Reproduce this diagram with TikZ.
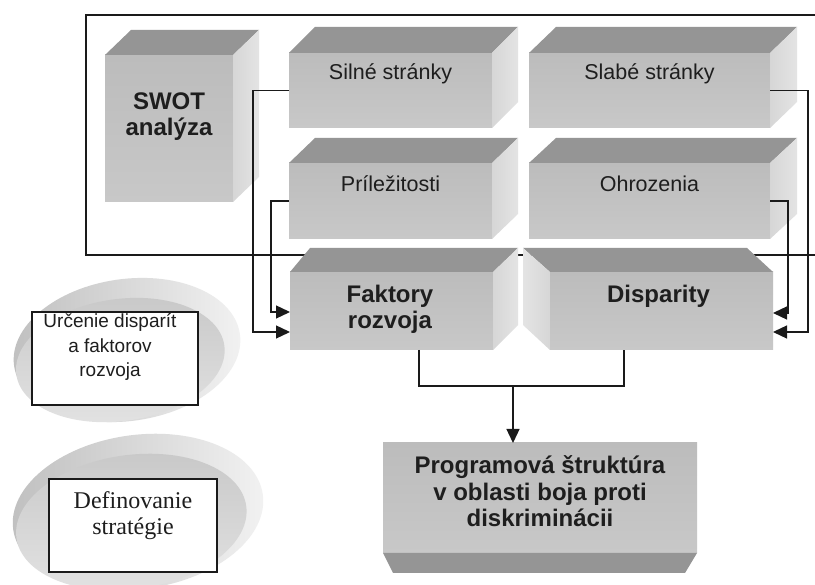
\documentclass[tikz,border=0pt]{standalone}
\usepackage{fontspec}
\setmainfont{Liberation Sans}
\newfontfamily\tnrfont{Liberation Serif}
\usetikzlibrary{arrows.meta}
\definecolor{topg}{HTML}{959595}
\definecolor{frontg}{HTML}{BCBCBC}
\definecolor{frontgl}{HTML}{C8C8C8}
\definecolor{sideg}{HTML}{D6D6D6}
\definecolor{sidegl}{HTML}{E4E4E4}
\definecolor{txt}{HTML}{1E1E1E}
\definecolor{linec}{HTML}{1A1A1A}
\newcommand\cubefaces[3]{%
  \fill[topg] (#1.north west) -- ++(#2,-#3) -- ([shift={(#2,-#3)}]#1.north east) -- (#1.north east) -- cycle;
  \shade[sideface] (#1.north east) -- ++(#2,-#3) -- ([shift={(#2,-#3)}]#1.south east) -- (#1.south east) -- cycle;}
\begin{document}
\begin{tikzpicture}[x=1pt,y=-1pt,
  face/.style={inner sep=0pt, outer sep=0pt, draw=none, top color=frontg, bottom color=frontgl},
  sideface/.style={left color=sideg, right color=sidegl},
  plain/.style={draw=linec, line width=1.3pt},
  conn/.style={plain, -{Triangle[length=14pt,width=13pt]}},
  lab/.style={text=txt, font=\fontsize{21.5}{26}\selectfont, anchor=base, align=center, inner sep=0pt},
  blab/.style={lab, font=\bfseries\fontsize{24}{26}\selectfont},
  whitebox/.style={draw=linec, line width=1.2pt, fill=white, inner sep=0pt, minimum width=#1, minimum height=93pt},
  discout/.style={left color=gray!50, right color=gray!10},
  discin/.style={top color=gray!42, bottom color=gray!22}
]
\useasboundingbox (0,0) rectangle (815,585);
\fill[white] (0,0) rectangle (815,585);
\clip (0,0) rectangle (815,585);

% frame (open on the right)
\draw[plain] (815,15) -- (86,15) -- (86,255) -- (815,255);

% SWOT cube
\node[face, minimum width=128pt, minimum height=147pt] (swot) at (169,128.5) {};
\cubefaces{swot}{26}{25}
\node[blab] (swott) at (169,136) {SWOT\\analýza};

% four boxes
\node[face, minimum width=203pt, minimum height=75pt] (silne) at (390.5,90.5) {};
\cubefaces{silne}{26}{26}
\node[lab] (silnet) at (390.5,80) {Silné stránky};

\node[face, minimum width=241pt, minimum height=75pt] (slabe) at (649.5,90.5) {};
\cubefaces{slabe}{27}{26}
\node[lab] (slabet) at (649.5,80) {Slabé stránky};

\node[face, minimum width=203pt, minimum height=76pt] (prilez) at (390.5,201) {};
\cubefaces{prilez}{26}{25}
\node[lab] (prilezt) at (390.5,192) {Príležitosti};

\node[face, minimum width=241pt, minimum height=76pt] (ohroz) at (649.5,201) {};
\cubefaces{ohroz}{27}{25}
\node[lab] (ohrozt) at (649.5,192) {Ohrozenia};

% Faktory rozvoja
\node[face, minimum width=203pt, minimum height=78pt] (fakt) at (391.5,311) {};
\fill[topg] (fakt.north west) -- ++(20,-24) -- ([shift={(25,-24)}]fakt.north east) -- (fakt.north east) -- cycle;
\shade[sideface] (fakt.north east) -- ++(25,-24) -- ([shift={(25,-25)}]fakt.south east) -- (fakt.south east) -- cycle;
\node[blab] (faktt) at (390,329) {Faktory\\rozvoja};

% Disparity
\node[face, minimum width=223pt, minimum height=78pt] (disp) at (661.5,311) {};
\fill[topg] (disp.north west) -- ++(-27,-24) -- ([shift={(-26,-24)}]disp.north east) -- (disp.north east) -- cycle;
\shade[left color=sidegl, right color=sideg] (disp.north west) -- ++(-27,-24) -- ([shift={(-27,-25)}]disp.south west) -- (disp.south west) -- cycle;
\node[blab] (dispt) at (658.5,303) {Disparity};

% Programova struktura
\node[face, minimum width=314pt, minimum height=110pt] (prog) at (540,498) {};
\fill[topg] (prog.south west) -- (prog.south east) -- ++(-12,20) -- ([shift={(10,20)}]prog.south west) -- cycle;
\node[blab, font=\bfseries\fontsize{24}{27}\selectfont] (progt) at (540,527) {Programová štruktúra\\v oblasti boja proti\\diskriminácii};

% connectors
\draw[conn] (silne.west) -- ++(-36,0) |- ([yshift=-21pt]fakt.west);
\draw[conn] (prilez.west) -- ++(-18,0) |- ([yshift=-1pt]fakt.west);
\draw[conn] (slabe.east) -- ++(38,0) |- ([yshift=-21pt]disp.east);
\draw[conn] (ohroz.east) -- ++(18,0) |- ([yshift=-2pt]disp.east);
\draw[plain] ([xshift=27.5pt]fakt.south) -- ++(0,36) -| ([xshift=-37.5pt]disp.south);
\coordinate (j) at (513,386);
\draw[conn] (j) -- (j |- prog.north);

% left discs
\begin{scope}[rotate around={8:(127,350)}]
  \shade[discout] (127,350) ellipse [x radius=114, y radius=71];
  \shade[discin] (119,359) ellipse [x radius=105, y radius=61];
\end{scope}
\begin{scope}[rotate around={8:(138,512)}]
  \shade[discout] (138,512) ellipse [x radius=126, y radius=77];
  \shade[discin] (130,521) ellipse [x radius=116, y radius=67];
\end{scope}
\node[whitebox=166pt] (urc) at (115,358.5) {};
\node[lab, font=\fontsize{19}{24.5}\selectfont] (urct) at (110,377) {Určenie disparít\\a faktorov\\rozvoja};
\node[whitebox=168pt] (defi) at (133,525.5) {};
\node[lab, font=\tnrfont\fontsize{24}{26}\selectfont] (defit) at (133,535) {Definovanie\\stratégie};
\end{tikzpicture}
\end{document}
